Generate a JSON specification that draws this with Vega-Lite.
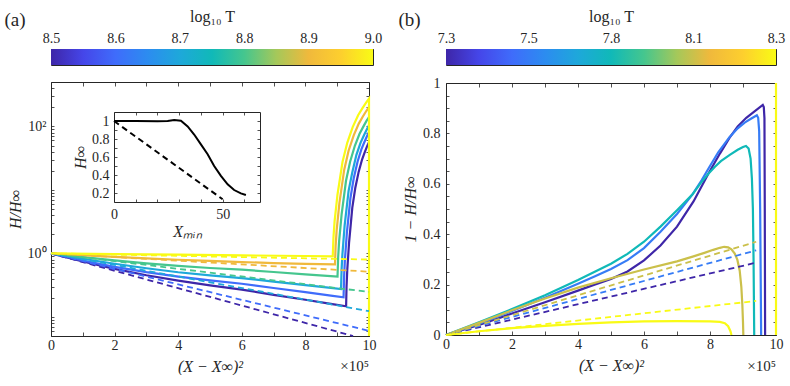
{
 "$schema": "https://vega.github.io/schema/vega-lite/v6.json",
 "background": "white",
 "padding": {"left": 3, "top": 7, "right": 0, "bottom": 0},
 "config": {
  "font": "Liberation Serif",
  "view": {"stroke": "#262626", "strokeWidth": 1},
  "axis": {"labelFont": "Liberation Serif", "titleFont": "Liberation Serif", "labelFontSize": 14, "titleFontSize": 16, "titleFontWeight": "normal", "labelColor": "#262626", "titleColor": "#262626", "tickColor": "#262626", "domainColor": "#262626", "tickWidth": 0.8, "domain": false, "grid": false, "tickSize": -4, "labelPadding": 6, "labelFlush": false, "labelOverlap": false},
  "text": {"font": "Liberation Serif"}
 },
 "datasets": {
  "a_solid": [
   {"s":"a1","T":8.5,"x":0,"y":1},{"s":"a1","T":8.5,"x":1,"y":0.7447},{"s":"a1","T":8.5,"x":2,"y":0.5689},{"s":"a1","T":8.5,"x":3,"y":0.4519},{"s":"a1","T":8.5,"x":4,"y":0.3715},{"s":"a1","T":8.5,"x":5,"y":0.3126},{"s":"a1","T":8.5,"x":6,"y":0.2679},{"s":"a1","T":8.5,"x":7,"y":0.2228},{"s":"a1","T":8.5,"x":8,"y":0.1862},{"s":"a1","T":8.5,"x":8.8,"y":0.1603},{"s":"a1","T":8.5,"x":9.28,"y":0.1466},{"s":"a1","T":8.5,"x":9.294,"y":0.2995},{"s":"a1","T":8.5,"x":9.316,"y":0.543},{"s":"a1","T":8.5,"x":9.374,"y":1.495},{"s":"a1","T":8.5,"x":9.474,"y":5.226},{"s":"a1","T":8.5,"x":9.568,"y":10.68},{"s":"a1","T":8.5,"x":9.676,"y":19.38},{"s":"a1","T":8.5,"x":9.784,"y":30.3},{"s":"a1","T":8.5,"x":9.87,"y":39.6},{"s":"a1","T":8.5,"x":9.942,"y":48.8},{"s":"a1","T":8.5,"x":10,"y":56.6},
   {"s":"a2","T":8.6,"x":0,"y":1},{"s":"a2","T":8.6,"x":1,"y":0.7727},{"s":"a2","T":8.6,"x":2,"y":0.6138},{"s":"a2","T":8.6,"x":3,"y":0.5058},{"s":"a2","T":8.6,"x":4,"y":0.4305},{"s":"a2","T":8.6,"x":5,"y":0.3758},{"s":"a2","T":8.6,"x":6,"y":0.3327},{"s":"a2","T":8.6,"x":7,"y":0.2851},{"s":"a2","T":8.6,"x":8,"y":0.2455},{"s":"a2","T":8.6,"x":8.8,"y":0.2168},{"s":"a2","T":8.6,"x":9.2,"y":0.2037},{"s":"a2","T":8.6,"x":9.216,"y":0.418},{"s":"a2","T":8.6,"x":9.24,"y":0.761},{"s":"a2","T":8.6,"x":9.304,"y":2.106},{"s":"a2","T":8.6,"x":9.416,"y":7.41},{"s":"a2","T":8.6,"x":9.52,"y":15.2},{"s":"a2","T":8.6,"x":9.64,"y":27.7},{"s":"a2","T":8.6,"x":9.76,"y":43.4},{"s":"a2","T":8.6,"x":9.856,"y":56.7},{"s":"a2","T":8.6,"x":9.936,"y":70.0},{"s":"a2","T":8.6,"x":10,"y":81.3},
   {"s":"a3","T":8.7,"x":0,"y":1},{"s":"a3","T":8.7,"x":1,"y":0.8222},{"s":"a3","T":8.7,"x":2,"y":0.6871},{"s":"a3","T":8.7,"x":3,"y":0.5834},{"s":"a3","T":8.7,"x":4,"y":0.5047},{"s":"a3","T":8.7,"x":5,"y":0.4498},{"s":"a3","T":8.7,"x":6,"y":0.4083},{"s":"a3","T":8.7,"x":7,"y":0.3589},{"s":"a3","T":8.7,"x":8,"y":0.3162},{"s":"a3","T":8.7,"x":8.8,"y":0.2858},{"s":"a3","T":8.7,"x":9.12,"y":0.2735},{"s":"a3","T":8.7,"x":9.138,"y":0.558},{"s":"a3","T":8.7,"x":9.164,"y":0.965},{"s":"a3","T":8.7,"x":9.234,"y":2.773},{"s":"a3","T":8.7,"x":9.358,"y":9.65},{"s":"a3","T":8.7,"x":9.472,"y":18.6},{"s":"a3","T":8.7,"x":9.604,"y":35.6},{"s":"a3","T":8.7,"x":9.736,"y":55.6},{"s":"a3","T":8.7,"x":9.842,"y":72.7},{"s":"a3","T":8.7,"x":9.93,"y":89.5},{"s":"a3","T":8.7,"x":10,"y":103.8},
   {"s":"a4","T":8.8,"x":0,"y":1},{"s":"a4","T":8.8,"x":1,"y":0.875},{"s":"a4","T":8.8,"x":2,"y":0.7762},{"s":"a4","T":8.8,"x":3,"y":0.695},{"s":"a4","T":8.8,"x":4,"y":0.6339},{"s":"a4","T":8.8,"x":5,"y":0.5888},{"s":"a4","T":8.8,"x":6,"y":0.5534},{"s":"a4","T":8.8,"x":7,"y":0.5093},{"s":"a4","T":8.8,"x":8,"y":0.4677},{"s":"a4","T":8.8,"x":8.8,"y":0.4395},{"s":"a4","T":8.8,"x":9.01,"y":0.4325},{"s":"a4","T":8.8,"x":9.03,"y":0.865},{"s":"a4","T":8.8,"x":9.06,"y":1.542},{"s":"a4","T":8.8,"x":9.139,"y":4.12},{"s":"a4","T":8.8,"x":9.277,"y":13.9},{"s":"a4","T":8.8,"x":9.406,"y":27.8},{"s":"a4","T":8.8,"x":9.555,"y":49.5},{"s":"a4","T":8.8,"x":9.703,"y":76.4},{"s":"a4","T":8.8,"x":9.822,"y":99.1},{"s":"a4","T":8.8,"x":9.921,"y":121.9},{"s":"a4","T":8.8,"x":10,"y":140.3},
   {"s":"a5","T":8.9,"x":0,"y":1},{"s":"a5","T":8.9,"x":1,"y":0.9376},{"s":"a5","T":8.9,"x":2,"y":0.881},{"s":"a5","T":8.9,"x":3,"y":0.8318},{"s":"a5","T":8.9,"x":4,"y":0.7943},{"s":"a5","T":8.9,"x":5,"y":0.7603},{"s":"a5","T":8.9,"x":6,"y":0.7295},{"s":"a5","T":8.9,"x":7,"y":0.7047},{"s":"a5","T":8.9,"x":8,"y":0.6839},{"s":"a5","T":8.9,"x":8.93,"y":0.6699},{"s":"a5","T":8.9,"x":8.951,"y":1.327},{"s":"a5","T":8.9,"x":8.984,"y":2.35},{"s":"a5","T":8.9,"x":9.069,"y":6.19},{"s":"a5","T":8.9,"x":9.219,"y":20.6},{"s":"a5","T":8.9,"x":9.358,"y":41.4},{"s":"a5","T":8.9,"x":9.519,"y":72.1},{"s":"a5","T":8.9,"x":9.679,"y":110.6},{"s":"a5","T":8.9,"x":9.807,"y":142.9},{"s":"a5","T":8.9,"x":9.914,"y":174.6},{"s":"a5","T":8.9,"x":10,"y":201.4},
   {"s":"a6","T":9.0,"x":0,"y":1},{"s":"a6","T":9.0,"x":2,"y":0.976},{"s":"a6","T":9.0,"x":4,"y":0.953},{"s":"a6","T":9.0,"x":6,"y":0.931},{"s":"a6","T":9.0,"x":8,"y":0.909},{"s":"a6","T":9.0,"x":8.86,"y":0.9},{"s":"a6","T":9.0,"x":8.883,"y":1.79},{"s":"a6","T":9.0,"x":8.917,"y":3.16},{"s":"a6","T":9.0,"x":9.008,"y":8.36},{"s":"a6","T":9.0,"x":9.168,"y":27.7},{"s":"a6","T":9.0,"x":9.316,"y":55.1},{"s":"a6","T":9.0,"x":9.487,"y":97.5},{"s":"a6","T":9.0,"x":9.658,"y":149.6},{"s":"a6","T":9.0,"x":9.795,"y":193.6},{"s":"a6","T":9.0,"x":9.909,"y":236.6},{"s":"a6","T":9.0,"x":10,"y":272.9},{"s":"a6","T":9.0,"x":10,"y":0.05}
  ],
  "a_dash": [
   {"s":"d1","T":8.5,"x":0,"y":1},{"s":"d1","T":8.5,"x":9.5,"y":0.05},
   {"s":"d2","T":8.6,"x":0,"y":1},{"s":"d2","T":8.6,"x":10,"y":0.0603},
   {"s":"d3","T":8.7,"x":0,"y":1},{"s":"d3","T":8.7,"x":10,"y":0.123},
   {"s":"d4","T":8.8,"x":0,"y":1},{"s":"d4","T":8.8,"x":10,"y":0.247},
   {"s":"d5","T":8.9,"x":0,"y":1},{"s":"d5","T":8.9,"x":10,"y":0.515},
   {"s":"d6","T":9.0,"x":0,"y":1},{"s":"d6","T":9.0,"x":10,"y":0.8}
  ],
  "in_solid": [
   {"x":0,"y":1.0},{"x":10,"y":1.0},{"x":20,"y":0.998},{"x":24.7,"y":1.0},{"x":27.7,"y":1.012},{"x":30.8,"y":1.003},{"x":33.9,"y":0.94},{"x":36.9,"y":0.85},{"x":40,"y":0.74},{"x":43.1,"y":0.63},{"x":46.1,"y":0.5},{"x":49.2,"y":0.39},{"x":52.3,"y":0.297},{"x":55.3,"y":0.233},{"x":58.4,"y":0.196},{"x":60.7,"y":0.178}
  ],
  "in_dash": [
   {"x":0,"y":1.0},{"x":50,"y":0.13}
  ],
  "b_solid": [
   {"s":"b1","T":7.3,"x":0,"y":0},{"s":"b1","T":7.3,"x":1,"y":0.04},{"s":"b1","T":7.3,"x":2,"y":0.085},{"s":"b1","T":7.3,"x":3,"y":0.13},{"s":"b1","T":7.3,"x":4,"y":0.176},{"s":"b1","T":7.3,"x":4.5,"y":0.2},{"s":"b1","T":7.3,"x":5,"y":0.222},{"s":"b1","T":7.3,"x":5.5,"y":0.252},{"s":"b1","T":7.3,"x":6,"y":0.296},{"s":"b1","T":7.3,"x":6.5,"y":0.355},{"s":"b1","T":7.3,"x":7,"y":0.43},{"s":"b1","T":7.3,"x":7.5,"y":0.53},{"s":"b1","T":7.3,"x":7.95,"y":0.64},{"s":"b1","T":7.3,"x":8.3,"y":0.72},{"s":"b1","T":7.3,"x":8.59,"y":0.782},{"s":"b1","T":7.3,"x":8.84,"y":0.828},{"s":"b1","T":7.3,"x":9.1,"y":0.862},{"s":"b1","T":7.3,"x":9.34,"y":0.886},{"s":"b1","T":7.3,"x":9.6,"y":0.913},{"s":"b1","T":7.3,"x":9.63,"y":0.905},{"s":"b1","T":7.3,"x":9.65,"y":0.86},{"s":"b1","T":7.3,"x":9.66,"y":0.5},{"s":"b1","T":7.3,"x":9.67,"y":0},
   {"s":"b2","T":7.55,"x":0,"y":0},{"s":"b2","T":7.55,"x":1,"y":0.045},{"s":"b2","T":7.55,"x":2,"y":0.095},{"s":"b2","T":7.55,"x":3,"y":0.148},{"s":"b2","T":7.55,"x":4,"y":0.203},{"s":"b2","T":7.55,"x":4.5,"y":0.232},{"s":"b2","T":7.55,"x":5,"y":0.262},{"s":"b2","T":7.55,"x":5.5,"y":0.297},{"s":"b2","T":7.55,"x":6,"y":0.345},{"s":"b2","T":7.55,"x":6.5,"y":0.41},{"s":"b2","T":7.55,"x":7,"y":0.48},{"s":"b2","T":7.55,"x":7.47,"y":0.558},{"s":"b2","T":7.55,"x":7.75,"y":0.615},{"s":"b2","T":7.55,"x":7.95,"y":0.66},{"s":"b2","T":7.55,"x":8.25,"y":0.725},{"s":"b2","T":7.55,"x":8.59,"y":0.785},{"s":"b2","T":7.55,"x":8.84,"y":0.82},{"s":"b2","T":7.55,"x":9.05,"y":0.843},{"s":"b2","T":7.55,"x":9.24,"y":0.858},{"s":"b2","T":7.55,"x":9.42,"y":0.872},{"s":"b2","T":7.55,"x":9.46,"y":0.862},{"s":"b2","T":7.55,"x":9.49,"y":0.81},{"s":"b2","T":7.55,"x":9.52,"y":0.5},{"s":"b2","T":7.55,"x":9.55,"y":0},
   {"s":"b3","T":7.8,"x":0,"y":0},{"s":"b3","T":7.8,"x":1,"y":0.05},{"s":"b3","T":7.8,"x":2,"y":0.103},{"s":"b3","T":7.8,"x":3,"y":0.158},{"s":"b3","T":7.8,"x":4,"y":0.218},{"s":"b3","T":7.8,"x":5,"y":0.283},{"s":"b3","T":7.8,"x":5.5,"y":0.322},{"s":"b3","T":7.8,"x":6,"y":0.37},{"s":"b3","T":7.8,"x":6.5,"y":0.43},{"s":"b3","T":7.8,"x":7,"y":0.495},{"s":"b3","T":7.8,"x":7.47,"y":0.558},{"s":"b3","T":7.8,"x":7.7,"y":0.6},{"s":"b3","T":7.8,"x":7.95,"y":0.64},{"s":"b3","T":7.8,"x":8.15,"y":0.668},{"s":"b3","T":7.8,"x":8.33,"y":0.69},{"s":"b3","T":7.8,"x":8.6,"y":0.715},{"s":"b3","T":7.8,"x":8.84,"y":0.735},{"s":"b3","T":7.8,"x":9.0,"y":0.746},{"s":"b3","T":7.8,"x":9.09,"y":0.75},{"s":"b3","T":7.8,"x":9.17,"y":0.74},{"s":"b3","T":7.8,"x":9.23,"y":0.7},{"s":"b3","T":7.8,"x":9.27,"y":0.62},{"s":"b3","T":7.8,"x":9.3,"y":0.5},{"s":"b3","T":7.8,"x":9.32,"y":0.3},{"s":"b3","T":7.8,"x":9.34,"y":0},
   {"s":"b4","T":8.05,"x":0,"y":0},{"s":"b4","T":8.05,"x":1,"y":0.048},{"s":"b4","T":8.05,"x":2,"y":0.098},{"s":"b4","T":8.05,"x":3,"y":0.145},{"s":"b4","T":8.05,"x":4,"y":0.188},{"s":"b4","T":8.05,"x":5,"y":0.225},{"s":"b4","T":8.05,"x":6,"y":0.26},{"s":"b4","T":8.05,"x":7,"y":0.292},{"s":"b4","T":8.05,"x":7.5,"y":0.312},{"s":"b4","T":8.05,"x":7.83,"y":0.326},{"s":"b4","T":8.05,"x":8.1,"y":0.338},{"s":"b4","T":8.05,"x":8.3,"y":0.346},{"s":"b4","T":8.05,"x":8.43,"y":0.35},{"s":"b4","T":8.05,"x":8.55,"y":0.348},{"s":"b4","T":8.05,"x":8.65,"y":0.34},{"s":"b4","T":8.05,"x":8.75,"y":0.323},{"s":"b4","T":8.05,"x":8.83,"y":0.298},{"s":"b4","T":8.05,"x":8.9,"y":0.255},{"s":"b4","T":8.05,"x":8.95,"y":0.19},{"s":"b4","T":8.05,"x":8.98,"y":0.12},{"s":"b4","T":8.05,"x":9.0,"y":0.05},{"s":"b4","T":8.05,"x":9.01,"y":0},
   {"s":"b5","T":8.3,"x":0,"y":0},{"s":"b5","T":8.3,"x":1,"y":0.015},{"s":"b5","T":8.3,"x":2,"y":0.027},{"s":"b5","T":8.3,"x":3,"y":0.036},{"s":"b5","T":8.3,"x":4,"y":0.044},{"s":"b5","T":8.3,"x":5,"y":0.05},{"s":"b5","T":8.3,"x":6,"y":0.054},{"s":"b5","T":8.3,"x":7,"y":0.055},{"s":"b5","T":8.3,"x":8,"y":0.054},{"s":"b5","T":8.3,"x":8.3,"y":0.052},{"s":"b5","T":8.3,"x":8.45,"y":0.047},{"s":"b5","T":8.3,"x":8.55,"y":0.035},{"s":"b5","T":8.3,"x":8.62,"y":0.015},{"s":"b5","T":8.3,"x":8.65,"y":0},
   {"s":"b6","T":8.3,"x":10,"y":0},{"s":"b6","T":8.3,"x":10,"y":1}
  ],
  "b_dash": [
   {"s":"e1","T":7.3,"x":0,"y":0},{"s":"e1","T":7.3,"x":9.4,"y":0.287},
   {"s":"e2","T":7.55,"x":0,"y":0},{"s":"e2","T":7.55,"x":9.4,"y":0.336},
   {"s":"e4","T":8.05,"x":0,"y":0},{"s":"e4","T":8.05,"x":9.4,"y":0.37},
   {"s":"e5","T":8.3,"x":0,"y":0},{"s":"e5","T":8.3,"x":9.4,"y":0.135}
  ]
 },
 "hconcat": [
  {
   "vconcat": [
    {
     "width": 322, "height": 16,
     "data": {"values": [{"lo": 8.5, "hi": 9.0, "k": "c"}]},
     "mark": {"type": "rect", "fill": {"gradient": "linear", "x1": 0, "y1": 0, "x2": 1, "y2": 0, "stops": [{"offset": 0, "color": "#3e26a8"}, {"offset": 0.1, "color": "#4546e9"}, {"offset": 0.2, "color": "#3f6cfb"}, {"offset": 0.3, "color": "#2c8cf0"}, {"offset": 0.4, "color": "#1ea8da"}, {"offset": 0.5, "color": "#10b9b8"}, {"offset": 0.6, "color": "#45c68e"}, {"offset": 0.7, "color": "#a5c85a"}, {"offset": 0.8, "color": "#f0b93c"}, {"offset": 0.9, "color": "#fdcf2e"}, {"offset": 1, "color": "#f9fb15"}]}},
     "encoding": {
      "x": {"field": "lo", "type": "quantitative", "scale": {"domain": [8.5, 9.0], "nice": false, "zero": false}, "axis": {"orient": "top", "values": [8.5, 8.6, 8.7, 8.8, 8.9, 9.0], "format": ".1f", "tickSize": -3, "labelPadding": 7, "title": "log₁₀ T", "titleFontSize": 16, "titleY": -33, "titleBaseline": "middle"}},
      "x2": {"field": "hi"},
      "y": {"field": "k", "type": "nominal", "scale": {"paddingInner": 0, "paddingOuter": 0}, "axis": {"title": "(a)", "labels": false, "ticks": false, "titleAngle": 0, "titleX": -47, "titleY": -30, "titleAlign": "left", "titleBaseline": "middle", "titleFontSize": 19}}
     }
    },
    {
     "width": 318, "height": 254,
     "layer": [
      {"data": {"name": "a_solid"}, "mark": {"type": "line", "strokeWidth": 2.2},
       "encoding": {
        "x": {"field": "x", "type": "quantitative", "scale": {"domain": [0, 10], "nice": false, "zero": false}, "axis": {"orient": "bottom", "values": [0,1,2,3,4,5,6,7,8,9,10], "labelExpr": "datum.value % 2 == 0 ? datum.label : ''", "title": "(X − X∞)²", "titleFontStyle": "italic", "titlePadding": 6}},
        "y": {"field": "y", "type": "quantitative", "scale": {"type": "log", "domain": [0.05, 500], "nice": false}, "axis": {"orient": "left", "values": [0.05,0.06,0.07,0.08,0.09,0.1,0.2,0.3,0.4,0.5,0.6,0.7,0.8,0.9,1,2,3,4,5,6,7,8,9,10,20,30,40,50,60,70,80,90,100,200,300,400,500], "labelExpr": "datum.value == 1 ? '10⁰' : (datum.value == 100 ? '10²' : '')", "tickSize": -3, "labelPadding": 8, "title": "H/H∞", "titleFontStyle": "italic", "titlePadding": 4}},
        "color": {"field": "T", "type": "quantitative", "scale": {"domain": [8.5, 9.0], "range": ["#3e26a8","#4546e9","#3f6cfb","#2c8cf0","#1ea8da","#10b9b8","#45c68e","#a5c85a","#f0b93c","#fdcf2e","#f9fb15"], "interpolate": "rgb"}, "legend": null},
        "detail": {"field": "s"},
        "order": {"value": null}
       }},
      {"data": {"name": "a_dash"}, "mark": {"type": "line", "strokeWidth": 1.8, "strokeDash": [6, 4]},
       "encoding": {
        "x": {"field": "x", "type": "quantitative", "scale": {"domain": [0, 10], "nice": false, "zero": false}, "axis": {"orient": "top", "values": [0,1,2,3,4,5,6,7,8,9,10], "labels": false, "title": null}},
        "y": {"field": "y", "type": "quantitative", "scale": {"type": "log", "domain": [0.05, 500], "nice": false}, "axis": {"orient": "right", "values": [0.05,0.06,0.07,0.08,0.09,0.1,0.2,0.3,0.4,0.5,0.6,0.7,0.8,0.9,1,2,3,4,5,6,7,8,9,10,20,30,40,50,60,70,80,90,100,200,300,400,500], "labels": false, "title": null, "tickSize": -3}},
        "color": {"field": "T", "type": "quantitative", "legend": null},
        "detail": {"field": "s"}
       }},
      {"data": {"values": [{"x": 10, "y": 0.05, "t": "×10⁵"}]}, "mark": {"type": "text", "align": "right", "baseline": "middle", "dy": 30, "fontSize": 15, "color": "#262626"},
       "encoding": {"x": {"field": "x", "type": "quantitative", "scale": {"domain": [0, 10], "nice": false, "zero": false}, "axis": null}, "y": {"field": "y", "type": "quantitative", "scale": {"type": "log", "domain": [0.05, 500], "nice": false}, "axis": null}, "text": {"field": "t"}}},
      {"data": {"name": "in_solid"}, "mark": {"type": "line", "color": "black", "strokeWidth": 2},
       "encoding": {
        "x": {"field": "x", "type": "quantitative", "scale": {"domain": [0, 67.2], "range": [63, 209], "nice": false, "zero": false}, "axis": {"orient": "bottom", "offset": -134, "domain": true, "values": [0,10,20,30,40,50,60], "labelExpr": "datum.value == 0 || datum.value == 50 ? datum.label : ''", "tickSize": -3, "labelPadding": 8, "title": "Xₘᵢₙ", "titleFontStyle": "italic", "titlePadding": 2}},
        "y": {"field": "y", "type": "quantitative", "scale": {"domain": [0.1, 1.1], "range": [120, 30], "nice": false, "zero": false}, "axis": {"orient": "left", "offset": -63, "domain": true, "values": [0.2,0.3,0.4,0.5,0.6,0.7,0.8,0.9,1.0], "labelExpr": "datum.value > 0.95 && datum.value < 1.05 ? '1' : (indexof(['0.2','0.4','0.6','0.8'], format(datum.value, '.1f')) >= 0 ? format(datum.value, '.1f') : '')", "tickSize": -3, "labelPadding": 8, "title": "H∞", "titleFontStyle": "italic", "titlePadding": 3}},
        "order": {"value": null}
       }},
      {"data": {"name": "in_dash"}, "mark": {"type": "line", "color": "black", "strokeWidth": 2, "strokeDash": [6, 4]},
       "encoding": {
        "x": {"field": "x", "type": "quantitative", "scale": {"domain": [0, 67.2], "range": [63, 209], "nice": false, "zero": false}, "axis": {"orient": "top", "offset": -30, "domain": true, "values": [0,10,20,30,40,50,60], "labels": false, "title": null, "tickSize": -3}},
        "y": {"field": "y", "type": "quantitative", "scale": {"domain": [0.1, 1.1], "range": [120, 30], "nice": false, "zero": false}, "axis": {"orient": "right", "offset": -109, "domain": true, "values": [0.2,0.3,0.4,0.5,0.6,0.7,0.8,0.9,1.0], "labels": false, "title": null, "tickSize": -3}}
       }}
     ],
     "resolve": {"scale": {"x": "independent", "y": "independent"}, "axis": {"x": "independent", "y": "independent"}}
    }
   ],
   "spacing": 17, "bounds": "flush",
   "resolve": {"scale": {"x": "independent", "y": "independent", "color": "independent"}}
  },
  {
   "vconcat": [
    {
     "width": 330, "height": 16,
     "data": {"values": [{"lo": 7.3, "hi": 8.3, "k": "c"}]},
     "mark": {"type": "rect", "fill": {"gradient": "linear", "x1": 0, "y1": 0, "x2": 1, "y2": 0, "stops": [{"offset": 0, "color": "#3e26a8"}, {"offset": 0.1, "color": "#4546e9"}, {"offset": 0.2, "color": "#3f6cfb"}, {"offset": 0.3, "color": "#2c8cf0"}, {"offset": 0.4, "color": "#1ea8da"}, {"offset": 0.5, "color": "#10b9b8"}, {"offset": 0.6, "color": "#45c68e"}, {"offset": 0.7, "color": "#a5c85a"}, {"offset": 0.8, "color": "#f0b93c"}, {"offset": 0.9, "color": "#fdcf2e"}, {"offset": 1, "color": "#f9fb15"}]}},
     "encoding": {
      "x": {"field": "lo", "type": "quantitative", "scale": {"domain": [7.3, 8.3], "nice": false, "zero": false}, "axis": {"orient": "top", "values": [7.3, 7.55, 7.8, 8.05, 8.3], "labelExpr": "datum.value < 7.4 ? '7.3' : (datum.value < 7.6 ? '7.5' : (datum.value < 7.9 ? '7.8' : (datum.value < 8.2 ? '8.1' : '8.3')))", "tickSize": -3, "labelPadding": 7, "title": "log₁₀ T", "titleFontSize": 16, "titleY": -33, "titleBaseline": "middle"}},
      "x2": {"field": "hi"},
      "y": {"field": "k", "type": "nominal", "scale": {"paddingInner": 0, "paddingOuter": 0}, "axis": {"title": "(b)", "labels": false, "ticks": false, "titleAngle": 0, "titleX": -48, "titleY": -30, "titleAlign": "left", "titleBaseline": "middle", "titleFontSize": 19}}
     }
    },
    {
     "width": 330, "height": 252,
     "layer": [
      {"data": {"name": "b_solid"}, "mark": {"type": "line", "strokeWidth": 2.2},
       "encoding": {
        "x": {"field": "x", "type": "quantitative", "scale": {"domain": [0, 10], "nice": false, "zero": false}, "axis": {"orient": "bottom", "values": [0,1,2,3,4,5,6,7,8,9,10], "labelExpr": "datum.value % 2 == 0 ? datum.label : ''", "title": "(X − X∞)²", "titleFontStyle": "italic", "titlePadding": 6}},
        "y": {"field": "y", "type": "quantitative", "scale": {"domain": [0, 1], "nice": false}, "axis": {"orient": "left", "values": [0,0.05,0.1,0.15,0.2,0.25,0.3,0.35,0.4,0.45,0.5,0.55,0.6,0.65,0.7,0.75,0.8,0.85,0.9,0.95,1], "labelExpr": "datum.value == 0 ? '0' : (datum.value == 1 ? '1' : (indexof(['0.20','0.40','0.60','0.80'], format(datum.value, '.2f')) >= 0 ? format(datum.value, '.1f') : ''))", "tickSize": -3, "labelPadding": 9, "title": "1 − H/H∞", "titleFontStyle": "italic", "titlePadding": 4}},
        "color": {"field": "T", "type": "quantitative", "scale": {"domain": [7.3, 8.3], "range": ["#3e26a8","#4546e9","#3f6cfb","#2c8cf0","#1ea8da","#10b9b8","#45c68e","#a5c85a","#f0b93c","#fdcf2e","#f9fb15"], "interpolate": "rgb"}, "legend": null},
        "detail": {"field": "s"},
        "order": {"value": null}
       }},
      {"data": {"name": "b_dash"}, "mark": {"type": "line", "strokeWidth": 1.8, "strokeDash": [6, 4]},
       "encoding": {
        "x": {"field": "x", "type": "quantitative", "axis": {"orient": "top", "values": [0,1,2,3,4,5,6,7,8,9,10], "labels": false, "title": null}},
        "y": {"field": "y", "type": "quantitative", "axis": {"orient": "right", "values": [0,0.05,0.1,0.15,0.2,0.25,0.3,0.35,0.4,0.45,0.5,0.55,0.6,0.65,0.7,0.75,0.8,0.85,0.9,0.95,1], "labels": false, "title": null, "tickSize": -3}},
        "color": {"field": "T", "type": "quantitative", "legend": null},
        "detail": {"field": "s"}
       }},
      {"data": {"values": [{"x": 10, "y": 0, "t": "×10⁵"}]}, "mark": {"type": "text", "align": "right", "baseline": "middle", "dy": 31, "fontSize": 15, "color": "#262626"},
       "encoding": {"x": {"field": "x", "type": "quantitative", "axis": null}, "y": {"field": "y", "type": "quantitative", "axis": null}, "text": {"field": "t"}}}
     ],
     "resolve": {"axis": {"x": "independent", "y": "independent"}}
    }
   ],
   "spacing": 18, "bounds": "flush",
   "resolve": {"scale": {"x": "independent", "y": "independent", "color": "independent"}}
  }
 ],
 "spacing": 395, "bounds": "flush",
 "resolve": {"scale": {"x": "independent", "y": "independent", "color": "independent"}}
}
